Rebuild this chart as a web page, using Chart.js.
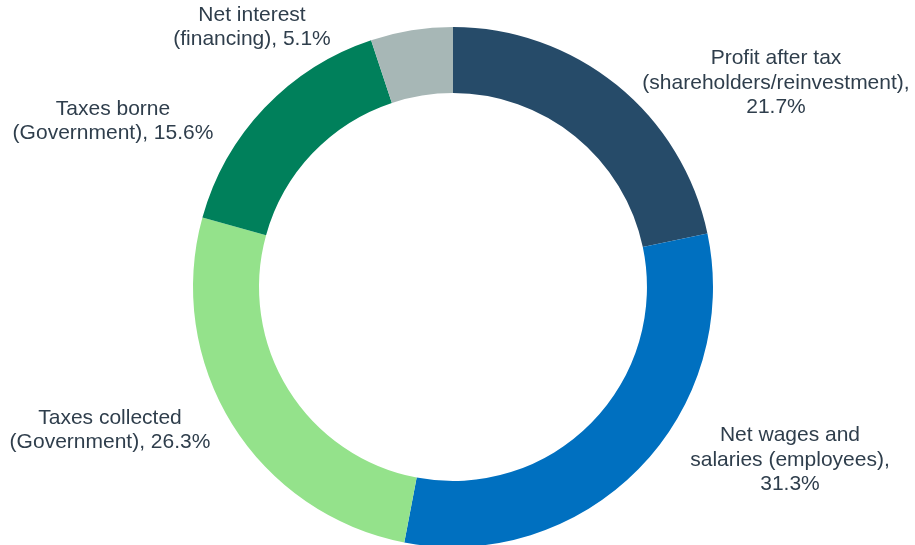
<!DOCTYPE html>
<html>
<head>
<meta charset="utf-8">
<script src="https://cdn.jsdelivr.net/npm/chart.js@4.4.1/dist/chart.umd.min.js"></script>
<style>
  html, body { margin: 0; padding: 0; background: #fff; overflow: hidden; }
  #wrap { width: 915px; height: 547px; position: relative; }
</style>
</head>
<body>
<div id="wrap"><canvas id="chart"></canvas></div>
<script>
// value shares, clockwise from 12 o'clock
const categories = [
  ['Profit after tax', '(shareholders/reinvestment),', '{v}'],
  ['Net wages and', 'salaries (employees),', '{v}'],
  ['Taxes collected', '(Government), {v}'],
  ['Taxes borne', '(Government), {v}'],
  ['Net interest', '(financing), {v}']
];
const shares = [21.7, 31.3, 26.3, 15.6, 5.1];
const colors = ['#264B69', '#0070C0', '#94E28B', '#00805B', '#A7B7B6'];

// label block centres, relative to the doughnut centre
const labelOffsets = [[323, -204], [337, 173], [-343, 143], [-340, -166], [-201, -260]];

const sliceLabels = {
  id: 'sliceLabels',
  afterDraw(chart) {
    const ctx = chart.ctx;
    const arc = chart.getDatasetMeta(0).data[0];
    const cx = arc.x, cy = arc.y;
    const lh = 24.5;
    ctx.save();
    ctx.font = '21px "Liberation Sans", Arial, sans-serif';
    ctx.fillStyle = '#2F3E4C';
    ctx.textAlign = 'center';
    ctx.textBaseline = 'middle';
    categories.forEach((lines, i) => {
      const txt = lines.map(l => l.replace('{v}', shares[i].toFixed(1) + '%'));
      const [dx, dy] = labelOffsets[i];
      const y0 = cy + dy - (txt.length - 1) * lh / 2;
      txt.forEach((t, j) => ctx.fillText(t, cx + dx, y0 + j * lh));
    });
    ctx.restore();
  }
};

new Chart(document.getElementById('chart'), {
  type: 'doughnut',
  data: {
    labels: categories.map(c => c.join(' ').replace('{v}', '').trim()),
    datasets: [{
      data: shares,
      backgroundColor: colors,
      borderWidth: 0
    }]
  },
  options: {
    responsive: true,
    maintainAspectRatio: false,
    animation: false,
    cutout: '74.6%',
    layout: { padding: { top: 27, bottom: 0, left: 0, right: 9 } },
    plugins: {
      legend: { display: false },
      tooltip: { enabled: false }
    }
  },
  plugins: [sliceLabels]
});
</script>
</body>
</html>
